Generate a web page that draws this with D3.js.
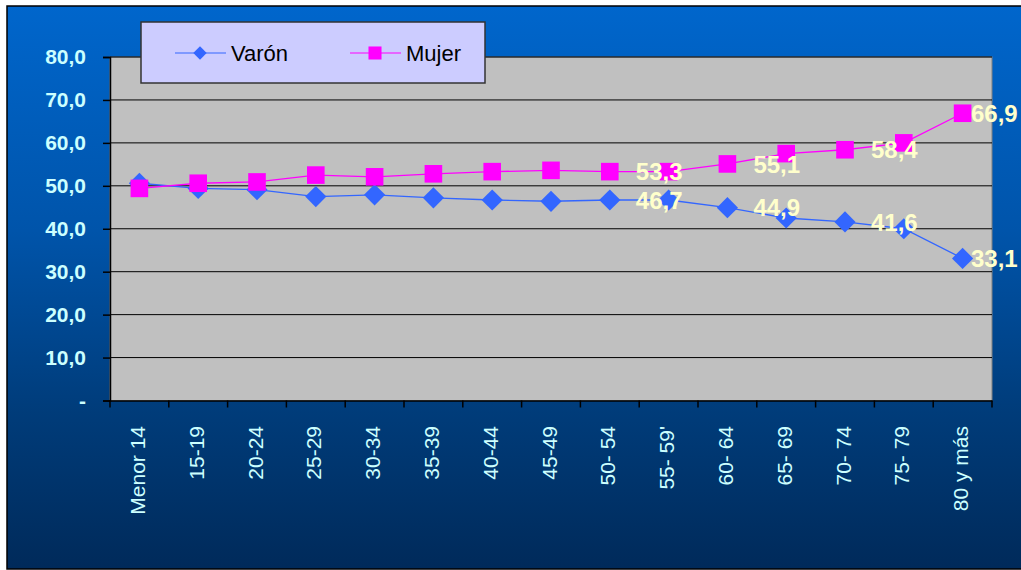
<!DOCTYPE html>
<html>
<head>
<meta charset="utf-8">
<script src="https://cdn.jsdelivr.net/npm/d3@7"></script>
<style>
  body { margin: 0; background: #fff; }
  svg { display: block; font-family: "Liberation Sans", Arial, sans-serif; }
</style>
</head>
<body>
<div id="chart"></div>
<script>
const categories = ["Menor 14", "15-19", "20-24", "25-29", "30-34", "35-39", "40-44", "45-49",
                    "50- 54", "55- 59'", "60- 64", "65- 69", "70- 74", "75- 79", "80 y más"];
const varon = [50.6, 49.4, 49.1, 47.5, 47.9, 47.2, 46.7, 46.4, 46.7, 46.7, 44.9, 42.5, 41.6, 40.0, 33.1];
const mujer = [49.4, 50.6, 50.9, 52.5, 52.1, 52.8, 53.3, 53.6, 53.3, 53.3, 55.1, 57.5, 58.4, 60.0, 66.9];
const labelled = ["50- 54", "60- 64", "70- 74", "80 y más"];
const yTicks = [0, 10, 20, 30, 40, 50, 60, 70, 80];

const w = 1021, h = 570;
const plot = { left: 110, right: 992, top: 57, bottom: 400.5 };

const svg = d3.select("#chart").append("svg")
  .attr("width", w)
  .attr("height", h);

const defs = svg.append("defs");
const grad = defs.append("linearGradient")
  .attr("id", "bg").attr("x1", 0).attr("y1", 0).attr("x2", 0).attr("y2", 1);
grad.append("stop").attr("offset", "0%").attr("stop-color", "#0066CC");
grad.append("stop").attr("offset", "40%").attr("stop-color", "#0054AA");
grad.append("stop").attr("offset", "72%").attr("stop-color", "#003C7A");
grad.append("stop").attr("offset", "100%").attr("stop-color", "#002A5A");

// background panel
svg.append("rect")
  .attr("x", 7).attr("y", 6).attr("width", w - 6).attr("height", 563)
  .attr("fill", "url(#bg)")
  .attr("stroke", "#000").attr("stroke-width", 1.5);

const x = d3.scaleBand()
  .domain(categories)
  .range([plot.left, plot.right]);

const y = d3.scaleLinear()
  .domain([0, 80])
  .range([plot.bottom, plot.top]);

// plot area
svg.append("rect")
  .attr("x", plot.left).attr("y", plot.top)
  .attr("width", plot.right - plot.left).attr("height", plot.bottom - plot.top)
  .attr("fill", "#C0C0C0")
  .attr("stroke", "#808080").attr("stroke-width", 1);

// gridlines
svg.append("g")
  .selectAll("line")
  .data(yTicks.filter(d => d > 0))
  .enter().append("line")
  .attr("x1", plot.left).attr("x2", plot.right)
  .attr("y1", d => y(d)).attr("y2", d => y(d))
  .attr("stroke", "#000").attr("stroke-width", 1);

// y axis
const yAxis = d3.axisLeft(y)
  .tickValues(yTicks)
  .tickSize(7)
  .tickPadding(17)
  .tickFormat(d => d === 0 ? "-" : d3.format(".1f")(d).replace(".", ","));

const gy = svg.append("g")
  .attr("transform", "translate(" + plot.left + ",0)")
  .call(yAxis);
gy.select(".domain").attr("stroke", "#000").attr("stroke-width", 1.5);
gy.selectAll(".tick line").attr("stroke", "#000").attr("stroke-width", 1.5);
gy.selectAll(".tick text")
  .attr("fill", "#CCFFFF")
  .style("font-size", "21px")
  .style("font-weight", "bold")
  .style("font-family", "'Liberation Sans', Arial, sans-serif");

// x axis
const xAxis = d3.axisBottom(x).tickSize(0).tickFormat("");
const gx = svg.append("g")
  .attr("transform", "translate(0," + plot.bottom + ")")
  .call(xAxis);
gx.select(".domain").attr("stroke", "#000").attr("stroke-width", 1.5);

const bounds = categories.map(c => x(c)).concat([plot.right]);
gx.selectAll("line.bnd")
  .data(bounds)
  .enter().append("line")
  .attr("class", "bnd")
  .attr("x1", d => d).attr("x2", d => d)
  .attr("y1", 0).attr("y2", 7)
  .attr("stroke", "#000").attr("stroke-width", 1.5);

svg.append("g")
  .selectAll("text")
  .data(categories)
  .enter().append("text")
  .attr("transform", d => "translate(" + (x(d) + x.bandwidth() / 2 - 2) + ",426) rotate(-90)")
  .attr("text-anchor", "end")
  .attr("dy", "0.36em")
  .attr("fill", "#CCFFFF")
  .style("font-size", "21px")
  .text(d => d);

const cx = d => x(d) + x.bandwidth() / 2;

// diamonds are squares turned by 45 degrees
const series = [
  { name: "Varón", values: varon, color: "#3366FF", rot: 45, size: 225, legSize: 90 },
  { name: "Mujer", values: mujer, color: "#FF00FF", rot: 0, size: 310, legSize: 170 }
];

series.forEach(s => {
  const pts = categories.map((c, i) => [cx(c), y(s.values[i])]);
  svg.append("path")
    .attr("d", d3.line()(pts))
    .attr("fill", "none")
    .attr("stroke", s.color)
    .attr("stroke-width", 1.3);
});

series.forEach(s => {
  svg.append("g")
    .selectAll("path")
    .data(categories)
    .enter().append("path")
    .attr("transform", (c, i) => "translate(" + cx(c) + "," + y(s.values[i]) + ") rotate(" + s.rot + ")")
    .attr("d", d3.symbol().type(d3.symbolSquare).size(s.size))
    .attr("fill", s.color);
});

// data labels
series.forEach(s => {
  svg.append("g")
    .selectAll("text")
    .data(categories.filter(c => labelled.includes(c)))
    .enter().append("text")
    .attr("x", c => Math.min(cx(c) + 26, w - 50))
    .attr("y", c => y(s.values[categories.indexOf(c)]))
    .attr("dy", "0.36em")
    .attr("fill", "#FFFFCC")
    .style("font-size", "24px")
    .style("font-weight", "bold")
    .text(c => d3.format(".1f")(s.values[categories.indexOf(c)]).replace(".", ","));
});

// legend
const legend = svg.append("g");
legend.append("rect")
  .attr("x", 141).attr("y", 22).attr("width", 344).attr("height", 61)
  .attr("fill", "#CCCCFF")
  .attr("stroke", "#333").attr("stroke-width", 1.5);

const legPos = [175, 350];
series.forEach((s, i) => {
  const lx = legPos[i];
  legend.append("line")
    .attr("x1", lx).attr("x2", lx + 51)
    .attr("y1", 53).attr("y2", 53)
    .attr("stroke", s.color).attr("stroke-width", 1.2);
  legend.append("path")
    .attr("transform", "translate(" + (lx + 25) + ",53) rotate(" + s.rot + ")")
    .attr("d", d3.symbol().type(d3.symbolSquare).size(s.legSize))
    .attr("fill", s.color);
  legend.append("text")
    .attr("x", lx + 56).attr("y", 53)
    .attr("dy", "0.36em")
    .attr("fill", "#000")
    .style("font-size", "22px")
    .text(s.name);
});
</script>
</body>
</html>
